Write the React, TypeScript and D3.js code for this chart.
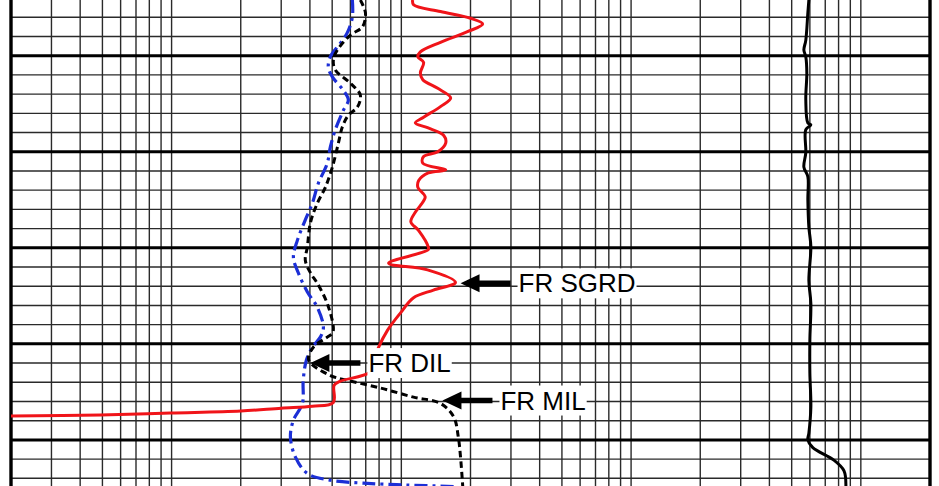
import React, { useEffect, useRef } from "react";
import * as d3 from "d3";

const WIDTH = 939;
const HEIGHT = 486;

// Resistivity track, ohm-m, four logarithmic decades
const resDomain: [number, number] = [0.2, 2000];
// Depth window, ft
const depthDomain: [number, number] = [5004.2, 5054.8];
const minorDepthStep = 2;
const majorDepthStep = 10;

// FR SGRD (solid red)
const sgrdDepth = [
  5004.2, 5004.7, 5005.4, 5006.1, 5006.7, 5007.5, 5008.6, 5009.6, 5010.1, 5010.7,
  5011.8, 5012.5, 5013.4, 5014.4, 5015.3, 5016.4, 5017.0, 5017.5, 5018.3, 5019.1,
  5020.0, 5020.5, 5021.2, 5021.9, 5022.2, 5023.0, 5023.7, 5024.7, 5025.6, 5026.3,
  5027.3, 5028.2, 5029.9, 5030.2, 5031.6, 5032.3, 5033.6, 5034.4, 5035.2, 5036.8,
  5038.6, 5040.4, 5041.7, 5042.95, 5043.9, 5044.3, 5046.1, 5046.5, 5046.7, 5047.0,
  5047.2, 5047.4, 5047.5,
];
const sgrdRes = [
  11.2, 11.3, 14.8, 20.0, 22.6, 19.4, 14.8, 12.1, 11.8, 12.5,
  12.1, 12.4, 14.4, 16.4, 14.8, 12.5, 11.5, 13.0, 15.3, 15.6,
  14.4, 12.5, 12.4, 15.6, 13.1, 11.9, 11.8, 12.7, 12.1, 11.5,
  11.0, 11.9, 13.1, 13.1, 8.8, 13.0, 17.2, 13.8, 11.3, 9.9,
  8.7, 7.95, 7.6, 7.3, 5.4, 5.1, 5.06, 4.1, 3.0, 2.0,
  0.99, 0.49, 0.2,
];

// FR MIL (short black dashes)
const milDepth = [
  5004.2, 5005.55, 5007.0, 5007.85, 5009.4, 5010.45, 5011.5, 5012.85, 5014.1, 5015.35,
  5016.2, 5017.4, 5019.1, 5021.6, 5023.7, 5025.35, 5027.4, 5029.9, 5031.3, 5032.6,
  5033.7, 5035.8, 5038.3, 5038.9, 5039.3, 5040.35, 5041.5, 5042.0, 5043.3, 5043.8,
  5044.6, 5045.55, 5046.2, 5047.6, 5049.7, 5051.8, 5054.8,
];
const milRes = [
  6.63, 6.98, 6.77, 6.0, 5.27, 5.06, 5.16, 6.0, 6.63, 6.44,
  5.88, 5.54, 5.32, 5.01, 4.67, 4.31, 4.02, 3.9, 3.82, 4.02,
  4.31, 4.76, 5.06, 5.01, 4.76, 4.14, 3.94, 4.02, 4.91, 5.82,
  8.11, 11.3, 14.8, 16.9, 17.7, 18.1, 18.5,
];

// FR DIL (blue dash-dot)
const dilDepth = [
  5004.2, 5006.0, 5007.6, 5008.7, 5010.1, 5011.2, 5012.2, 5013.6, 5014.6, 5015.7,
  5017.7, 5019.5, 5021.2, 5023.3, 5025.35, 5027.1, 5029.2, 5031.0, 5032.6, 5034.6,
  5036.2, 5038.3, 5039.3, 5040.35, 5041.7, 5043.8, 5046.2, 5047.95, 5049.7, 5051.8,
  5053.5, 5054.2, 5054.5, 5054.7, 5054.85,
];
const dilRes = [
  6.12, 6.12, 5.82, 5.43, 4.91, 4.81, 5.01, 5.59, 5.88, 5.59,
  5.16, 4.91, 4.76, 4.35, 4.1, 3.82, 3.53, 3.39, 3.56, 3.9,
  4.31, 4.58, 4.44, 4.1, 3.86, 3.74, 3.71, 3.39, 3.29, 3.46,
  3.9, 4.91, 6.84, 10.6, 16.9,
];

// Far-right resistivity trace (solid black)
const farDepth = [
  5004.2, 5005.55, 5008.4, 5009.4, 5010.1, 5011.8, 5014.6, 5017.0, 5017.2, 5017.7,
  5020.1, 5021.6, 5022.6, 5025.0, 5027.85, 5029.9, 5033.4, 5035.8, 5039.6, 5043.05,
  5046.6, 5049.3, 5050.0, 5050.8, 5052.1, 5053.2, 5054.8,
];
const farRes = [
  594, 588, 576, 565, 576, 582, 576, 588, 606, 576,
  576, 565, 588, 588, 594, 606, 594, 606, 600, 600,
  606, 594, 588, 618, 763, 844, 861,
];

// Curve annotations: arrow tip at (depth, resistivity)
const labelTexts = ["FR SGRD", "FR DIL", "FR MIL"];
const labelDepths = [5033.7, 5042.0, 5045.9];
const labelRes = [18.1, 4.02, 15.1];

export default function App() {
  const ref = useRef<SVGSVGElement>(null);

  useEffect(() => {
    const svg = d3.select(ref.current);
    svg.selectAll("*").remove();

    const x = d3.scaleLog().domain(resDomain).range([11, 930]);
    const y = d3.scaleLinear().domain(depthDomain).range([0, HEIGHT]);

    svg.append("rect").attr("width", WIDTH).attr("height", HEIGHT).attr("fill", "#fff");

    // Logarithmic grid lines
    const grid = svg.append("g");
    const vLines: number[] = [];
    for (let e = -1; e <= 3; e++) {
      for (let k = 1; k <= 9; k++) {
        const v = +(k * Math.pow(10, e)).toPrecision(6);
        if (v > resDomain[0] && v < resDomain[1]) vLines.push(v);
      }
    }
    grid
      .selectAll("line.v")
      .data(vLines)
      .join("line")
      .attr("class", "v")
      .attr("x1", (d) => x(d))
      .attr("x2", (d) => x(d))
      .attr("y1", 0)
      .attr("y2", HEIGHT)
      .attr("stroke", "#2a2a2a")
      .attr("stroke-width", 1.4);

    const hLines = d3.range(5006, 5056, minorDepthStep);
    const isMajor = (d: number) => d % majorDepthStep === 0;
    grid
      .selectAll("line.h")
      .data(hLines)
      .join("line")
      .attr("class", "h")
      .attr("x1", x(resDomain[0]))
      .attr("x2", x(resDomain[1]))
      .attr("y1", (d) => y(d))
      .attr("y2", (d) => y(d))
      .attr("stroke", (d) => (isMajor(d) ? "#000" : "#2a2a2a"))
      .attr("stroke-width", (d) => (isMajor(d) ? 3 : 1.4));

    // Track borders
    grid
      .selectAll("line.border")
      .data(resDomain)
      .join("line")
      .attr("class", "border")
      .attr("x1", (d) => x(d))
      .attr("x2", (d) => x(d))
      .attr("y1", 0)
      .attr("y2", HEIGHT)
      .attr("stroke", "#000")
      .attr("stroke-width", 3.4);

    // Curves
    svg
      .append("clipPath")
      .attr("id", "track-clip")
      .append("rect")
      .attr("x", x(resDomain[0]))
      .attr("y", 0)
      .attr("width", x(resDomain[1]) - x(resDomain[0]))
      .attr("height", HEIGHT);

    const line = d3
      .line<[number, number]>()
      .x((d) => x(d[1]))
      .y((d) => y(d[0]))
      .curve(d3.curveCatmullRom.alpha(0.5));

    const curves = svg.append("g").attr("clip-path", "url(#track-clip)");
    const series = [
      { depth: farDepth, res: farRes, color: "#000", dash: null, w: 3 },
      { depth: dilDepth, res: dilRes, color: "#1c2fd6", dash: "13,5,3,5", w: 3.2 },
      { depth: milDepth, res: milRes, color: "#000", dash: "6.5,4", w: 3 },
      { depth: sgrdDepth, res: sgrdRes, color: "#f01419", dash: null, w: 3 },
    ];
    series.forEach((s) => {
      const pts = s.depth.map((d, i) => [d, s.res[i]] as [number, number]);
      curves
        .append("path")
        .attr("d", line(pts))
        .attr("fill", "none")
        .attr("stroke", s.color)
        .attr("stroke-width", s.w)
        .attr("stroke-dasharray", s.dash)
        .attr("stroke-linejoin", "round");
    });

    // Annotations
    const notes = svg.append("g");
    labelTexts.forEach((txt, i) => {
      const tx = x(labelRes[i]);
      const ty = y(labelDepths[i]);
      const g = notes.append("g");
      const bg = g.append("rect").attr("fill", "#fff");
      const t = g
        .append("text")
        .attr("x", tx + 58)
        .attr("y", ty + 9)
        .attr("font-family", "'Liberation Sans', Arial, sans-serif")
        .attr("font-size", 26)
        .attr("fill", "#000")
        .text(txt);
      const bb = (t.node() as SVGTextElement).getBBox();
      bg.attr("x", bb.x - 1).attr("y", bb.y).attr("width", bb.width + 2).attr("height", bb.height);
      g.append("path")
        .attr(
          "d",
          `M${tx},${ty} L${tx + 19},${ty - 9} L${tx + 19},${ty - 2.8} L${tx + 50},${ty - 2.8} ` +
            `L${tx + 50},${ty + 2.8} L${tx + 19},${ty + 2.8} L${tx + 19},${ty + 9} Z`
        )
        .attr("fill", "#000");
    });
  }, []);

  return (
    <div style={{ position: "absolute", left: 0, top: 0 }}>
      <svg ref={ref} width={WIDTH} height={HEIGHT} style={{ display: "block" }} />
    </div>
  );
}
